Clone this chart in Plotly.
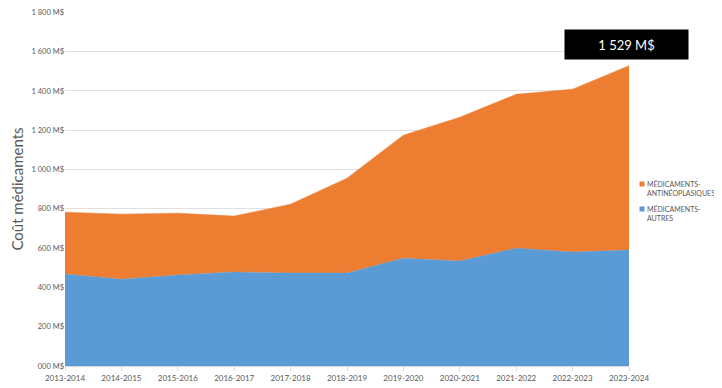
import plotly.graph_objects as go

categories = ["2013-2014", "2014-2015", "2015-2016", "2016-2017", "2017-2018", "2018-2019",
              "2019-2020", "2020-2021", "2021-2022", "2022-2023", "2023-2024"]
autres = [468, 442, 463, 478, 473, 473, 549, 534, 600, 580, 590]
antineo = [315, 331, 315, 285, 351, 483, 626, 732, 783, 829, 939]
tick_vals = [0, 200, 400, 600, 800, 1000, 1200, 1400, 1600, 1800]
tick_text = ["000 M$", "200 M$", "400 M$", "600 M$", "800 M$", "1 000 M$",
             "1 200 M$", "1 400 M$", "1 600 M$", "1 800 M$"]
total_label = "1 529 M$"
legend_names = ["MÉDICAMENTS-<br>ANTINÉOPLASIQUES", "MÉDICAMENTS-<br>AUTRES"]

BLUE = "#5B9BD5"
ORANGE = "#ED7D31"

# page body has an 8px margin; figure is sized to fit the window
W, H = 714, 380
PL, PR, PT, PB = 57, 621, 4, 358


def px(xp):
    return (xp - PL) / (PR - PL)


def py(yp):
    return (PB - yp) / (PB - PT)


fig = go.Figure()
fig.add_trace(go.Scatter(
    x=categories, y=autres, name="MÉDICAMENTS-AUTRES", showlegend=False,
    stackgroup="one", mode="lines", line=dict(width=0.5, color=BLUE),
    fillcolor=BLUE))
fig.add_trace(go.Scatter(
    x=categories, y=antineo, name="MÉDICAMENTS-ANTINÉOPLASIQUES", showlegend=False,
    stackgroup="one", mode="lines", line=dict(width=0.5, color=ORANGE),
    fillcolor=ORANGE))

# manual legend (swatch + two-line label)
for name, color, yc in [(legend_names[0], ORANGE, 176), (legend_names[1], BLUE, 201)]:
    fig.add_shape(type="rect", xref="paper", yref="paper",
                  x0=px(631.5), x1=px(636.5), y0=py(yc + 2.5), y1=py(yc - 2.5),
                  fillcolor=color, line=dict(width=0))
    fig.add_annotation(x=px(636.5), y=py(yc - 6), xref="paper", yref="paper",
                       xanchor="left", yanchor="top", align="left",
                       text=name, showarrow=False,
                       font=dict(size=7, color="#595959", family="Lato"))

fig.add_annotation(
    x=px(618), y=py(37), xref="paper", yref="paper",
    xanchor="center", yanchor="middle",
    text=total_label, showarrow=False,
    font=dict(color="white", size=13, family="Lato"),
    bgcolor="black", width=121, height=27, borderpad=1)

fig.update_layout(
    width=W, height=H,
    margin=dict(l=PL, r=W - PR, t=PT, b=H - PB, autoexpand=False),
    paper_bgcolor="white", plot_bgcolor="white",
    font=dict(family="Lato", color="#595959", size=8),
    showlegend=False,
    xaxis=dict(type="category", range=[0, 10], showgrid=False, automargin=False,
               showline=True, linecolor="#d9d9d9", linewidth=1,
               ticks="outside", tickcolor="#d9d9d9", ticklen=4,
               tickfont=dict(size=8, color="#595959")),
    yaxis=dict(range=[0, 1802], tickvals=tick_vals, ticktext=tick_text, automargin=False,
               showgrid=True, gridcolor="#e0e0e0", gridwidth=1,
               zeroline=False, showline=False, ticks="", ticklabeloverflow="allow",
               tickfont=dict(size=7.5, color="#595959"),
               title=dict(text="Coût médicaments", font=dict(size=15, color="#595959"),
                          standoff=8)),
)

fig.write_html("out.html")
